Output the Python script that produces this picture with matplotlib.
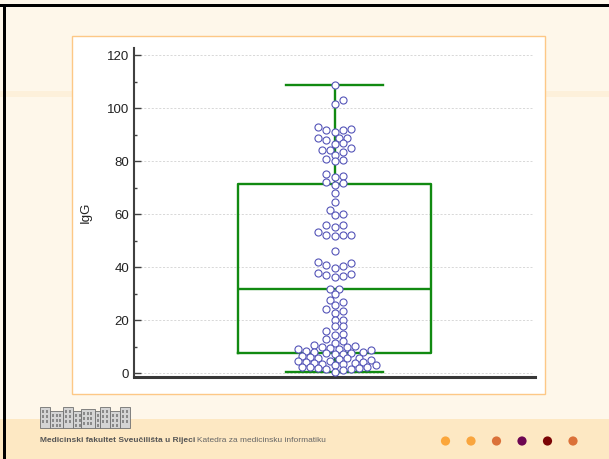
import numpy as np
import matplotlib
matplotlib.use("Agg")
import matplotlib.pyplot as plt
from matplotlib.patches import Rectangle, Circle

plt.rcParams['font.family'] = ['Liberation Sans', 'DejaVu Sans']

# IgG values
igg = [108.7,
       102.9, 101.6,
       93.0, 92.2, 91.7, 91.6, 91.2,
       88.8, 88.7, 88.6, 88.0,
       86.8, 86.6, 85.0, 84.3, 84.1, 83.5, 82.3,
       80.9, 80.4, 79.9,
       75.1, 74.4, 73.9,
       72.0, 71.8, 71.0,
       67.9, 64.5, 61.6,
       60.0, 59.8,
       56.1, 55.9, 55.3, 53.4,
       52.2, 52.1, 52.0, 51.7,
       46.2,
       41.8, 41.6, 40.9, 40.5, 39.8,
       37.8, 37.4, 37.2, 36.8, 36.2,
       31.9, 31.7, 30.0,
       27.6, 26.9, 25.7,
       24.1, 23.6, 22.9,
       20.2, 20.0,
       17.9, 17.7,
       15.8, 14.8, 14.6,
       12.8, 12.1, 11.3,
       10.6, 10.3, 10.0, 9.8, 9.5,
       9.2, 9.0, 8.7,
       8.3, 8.1, 7.9, 7.8, 7.6, 7.4, 7.2,
       6.4, 6.1, 5.9, 5.8, 5.6, 5.4, 5.1,
       4.8, 4.6, 4.4,
       4.1, 3.9, 3.8, 3.6, 3.5, 3.3,
       3.0,
       2.5, 2.3, 2.2, 2.1, 1.9, 1.8, 1.6,
       1.2, 0.4]

# box-and-whisker statistics as drawn
box_q1 = 7.8
box_median = 31.8
box_q3 = 71.3
whisker_low = 0.4
whisker_high = 108.7

y_ticks = [0, 20, 40, 60, 80, 100, 120]
y_label = "IgG"
footer_bold = "Medicinski fakultet Sveučilišta u Rijeci"
footer_normal = "Katedra za medicinsku informatiku"
dot_colors = ['#FBA63B', '#F9A53E', '#DB7139', '#6D0652', '#7B0405', '#DB7139']

green = '#118A11'
W, H = 609, 459

fig = plt.figure(figsize=(W / 100, H / 100), dpi=100)
fig.patch.set_facecolor('#FEF7EA')

# slide background, drawn in pixel coordinates
bg = fig.add_axes([0, 0, 1, 1], zorder=-1)
bg.set_xlim(0, W)
bg.set_ylim(H, 0)
bg.axis('off')
bg.add_patch(Rectangle((0, 91), W, 6, color='#FDF0DA', lw=0))
bg.add_patch(Rectangle((0, 419), W, 40, color='#FDE8C3', lw=0))
bg.add_patch(Rectangle((0, 4), W, 3, color='black', lw=0))
bg.add_patch(Rectangle((3, 4), 2.5, H, color='black', lw=0))
bg.add_patch(Rectangle((72, 36), 473, 358, facecolor='white',
                       edgecolor='#FDC886', lw=1))

# little building logo
for x0, w, top in [(40, 10, 407), (50, 13, 411), (63, 10, 407), (73, 8, 411),
                   (81, 14, 409), (95, 5, 411), (100, 10, 407), (110, 10, 411),
                   (120, 10, 407)]:
    bg.add_patch(Rectangle((x0, top), w, 428 - top, facecolor='#D4D4D4',
                           edgecolor='#707070', lw=0.6))
    for wy in range(top + 3, 425, 5):
        for wx in np.arange(x0 + 2, x0 + w - 2, 3.5):
            bg.add_patch(Rectangle((wx, wy), 2, 2.5, facecolor='#8A8A8A', lw=0))

for i, c in enumerate(dot_colors):
    bg.add_patch(Circle((445.5 + i * 25.5, 441), 4.6, color=c, lw=0))

t1 = fig.text(40 / W, 1 - 441 / H, footer_bold, fontsize=6, fontweight='bold',
              color='#555555', va='center')
fig.canvas.draw()
bb = t1.get_window_extent()
fig.text(bb.x1 / W + 2 / W, 1 - 441 / H, footer_normal, fontsize=6,
         color='#666666', va='center')

# chart
ax = fig.add_axes([134 / W, 1 - 377 / H, (535 - 134) / W, (377 - 48) / H])
ax.patch.set_visible(False)
ax.set_xlim(0, 1)
ax.set_ylim(-1.4, 122.7)
for s in ['top', 'right']:
    ax.spines[s].set_visible(False)
ax.spines['left'].set_color('#404040')
ax.spines['left'].set_linewidth(1.5)
ax.spines['bottom'].set_color('#383838')
ax.spines['bottom'].set_linewidth(2.2)
ax.set_xticks([])
ax.set_yticks(y_ticks)
ax.set_yticks([v + 10 for v in y_ticks[:-1]], minor=True)
ax.tick_params(axis='y', which='major', direction='in', length=5, width=1,
               color='#404040', labelsize=9.5, labelcolor='#222222', pad=3.5)
ax.tick_params(axis='y', which='minor', direction='in', length=2, width=1,
               color='#404040')
ax.hlines(y_ticks, 0.016, 0.992, transform=ax.get_yaxis_transform(),
          colors='#D2D2D2', lw=0.6, linestyles=(0, (2.5, 2)), zorder=0)
ax.set_ylabel(y_label, fontsize=9.5, color='#222222')
ax.yaxis.set_label_coords(-0.105, 0.5)

stats = [dict(med=box_median, q1=box_q1, q3=box_q3,
              whislo=whisker_low, whishi=whisker_high, fliers=[])]
lp = dict(color=green, lw=1.7)
ax.bxp(stats, positions=[0.5], widths=0.48, capwidths=0.24, showfliers=False,
       boxprops=lp, medianprops=lp, whiskerprops=lp, capprops=lp,
       manage_ticks=False, zorder=2)


def swarm(values, diam=6.0, step=4.1):
    vals = np.asarray(values, float)
    ypx = ax.transData.transform(np.column_stack([np.full(len(vals), 0.5), vals]))[:, 1]
    xs = np.zeros(len(vals))
    placed = []
    cand = [0]
    for k in range(1, 15):
        cand += [k, -k]
    for i in np.argsort(vals):
        for k in cand:
            x = k * step
            if all((x - px) ** 2 + (ypx[i] - py) ** 2 >= diam ** 2 for px, py in placed):
                break
        placed.append((x, ypx[i]))
        xs[i] = x
    return 0.5 + xs / ax.bbox.width


ax.scatter(swarm(igg), igg, s=26, facecolors='white', edgecolors='#5454B8',
           linewidths=0.8, zorder=3, clip_on=False)

fig.savefig('out.png', dpi=100)
